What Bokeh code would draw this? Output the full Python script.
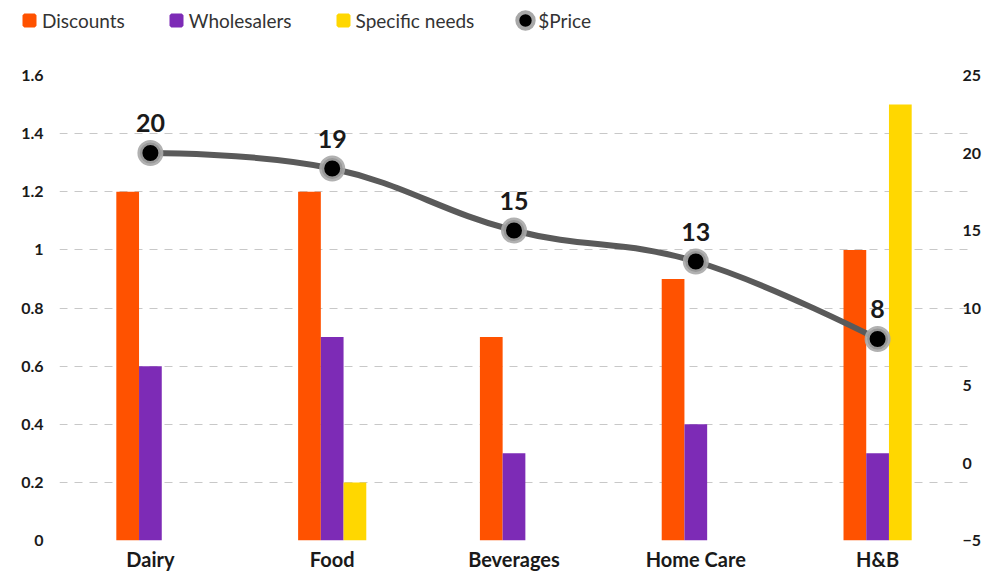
from bokeh.plotting import figure
from bokeh.layouts import column
from bokeh.models import (ColumnDataSource, Range1d, LinearAxis, FixedTicker,
                          Legend, LegendItem, NumeralTickFormatter)
from bokeh.core.properties import value
from bokeh.transform import dodge
from bokeh.embed import file_html
from bokeh.resources import INLINE

# ---------------- data ----------------
categories = ["Dairy", "Food", "Beverages", "Home Care", "H&B"]
discounts = [1.2, 1.2, 0.7, 0.9, 1.0]
wholesalers = [0.6, 0.7, 0.3, 0.4, 0.3]
specific_needs = [0, 0.2, 0, 0, 1.5]
price = [20, 19, 15, 13, 8]
left_ticks = [0, 0.2, 0.4, 0.6, 0.8, 1, 1.2, 1.4, 1.6]
right_ticks = [-5, 0, 5, 10, 15, 20, 25]

FONT = "Lato"
ORANGE = "#FF5200"
PURPLE = "#7D2BB6"
YELLOW = "#FFD700"
TXT = "#1a1a1a"

xpos = list(range(len(categories)))
src = ColumnDataSource(dict(x=xpos, discounts=discounts, wholesalers=wholesalers,
                            specific=specific_needs, price=price,
                            label=[str(v) for v in price]))

LEG_H = 40
p = figure(width=1002, height=573 - LEG_H, x_range=Range1d(-0.5, len(categories) - 0.5),
           y_range=Range1d(left_ticks[0], left_ticks[-1]),
           output_backend="svg", toolbar_location=None,
           min_border_left=59, min_border_right=34, min_border_top=75 - LEG_H,
           min_border_bottom=32)
p.outline_line_color = None
p.background_fill_color = "white"
p.border_fill_color = "white"
p.extra_y_ranges = {"price": Range1d(right_ticks[0], right_ticks[-1])}

# grid
p.xgrid.visible = False
p.ygrid.ticker = FixedTicker(ticks=left_ticks)
p.ygrid.grid_line_color = "#c8c8c8"
p.ygrid.grid_line_dash = "8 7"
p.ygrid.grid_line_width = 1

def style_axis(ax, size, standoff):
    ax.axis_line_color = None
    ax.major_tick_line_color = None
    ax.minor_tick_line_color = None
    ax.major_tick_out = 0
    ax.major_tick_in = 0
    ax.minor_tick_out = 0
    ax.minor_tick_in = 0
    ax.major_label_standoff = standoff
    ax.major_label_text_font = FONT
    ax.major_label_text_font_size = size
    ax.major_label_text_font_style = "bold"
    ax.major_label_text_color = TXT

# left axis
ya = p.yaxis[0]
ya.ticker = FixedTicker(ticks=left_ticks)
ya.formatter = NumeralTickFormatter(format="0.[0]")
style_axis(ya, "16px", 16)

# bottom axis
xa = p.xaxis[0]
xa.ticker = FixedTicker(ticks=xpos)
xa.major_label_overrides = {i: c for i, c in zip(xpos, categories)}
style_axis(xa, "20px", 6)

# right axis
ra = LinearAxis(y_range_name="price", ticker=FixedTicker(ticks=right_ticks))
style_axis(ra, "16px", -6)
ra.major_label_text_align = "right"
p.add_layout(ra, "right")

# bars
bw = 0.125
r1 = p.vbar(x=dodge("x", -bw), top="discounts", width=bw, source=src,
            fill_color=ORANGE, line_color=None)
r2 = p.vbar(x=dodge("x", 0), top="wholesalers", width=bw, source=src,
            fill_color=PURPLE, line_color=None)
r3 = p.vbar(x=dodge("x", bw), top="specific", width=bw, source=src,
            fill_color=YELLOW, line_color=None)

# smooth spline through the price points (bezier control points from the data)
def spline_segments(xs, ys, smoothing=1.5):
    n = len(xs)
    lc = [(xs[i], ys[i]) for i in range(n)]
    rc = [(xs[i], ys[i]) for i in range(n)]
    den = smoothing + 1
    for i in range(1, n - 1):
        px, py = xs[i - 1], ys[i - 1]
        nx, ny = xs[i + 1], ys[i + 1]
        x, y = xs[i], ys[i]
        lcx = (smoothing * x + px) / den
        lcy = (smoothing * y + py) / den
        rcx = (smoothing * x + nx) / den
        rcy = (smoothing * y + ny) / den
        corr = ((rcy - lcy) * (rcx - x)) / (rcx - lcx) + y - rcy
        lcy += corr
        rcy += corr
        if lcy > max(py, y):
            lcy = max(py, y); rcy = 2 * y - lcy
        elif lcy < min(py, y):
            lcy = min(py, y); rcy = 2 * y - lcy
        if rcy > max(ny, y):
            rcy = max(ny, y); lcy = 2 * y - rcy
        elif rcy < min(ny, y):
            rcy = min(ny, y); lcy = 2 * y - rcy
        lc[i] = (lcx, lcy)
        rc[i] = (rcx, rcy)
    seg = dict(x0=[], y0=[], x1=[], y1=[], cx0=[], cy0=[], cx1=[], cy1=[])
    for i in range(n - 1):
        seg["x0"].append(xs[i]); seg["y0"].append(ys[i])
        seg["x1"].append(xs[i + 1]); seg["y1"].append(ys[i + 1])
        seg["cx0"].append(rc[i][0]); seg["cy0"].append(rc[i][1])
        seg["cx1"].append(lc[i + 1][0]); seg["cy1"].append(lc[i + 1][1])
    return seg

seg_src = ColumnDataSource(spline_segments(xpos, price))
p.bezier(x0="x0", y0="y0", x1="x1", y1="y1", cx0="cx0", cy0="cy0", cx1="cx1", cy1="cy1",
         source=seg_src, y_range_name="price", line_color="#5a5a5a", line_width=6,
         line_cap="round")

r4 = p.scatter(x="x", y="price", source=src, y_range_name="price", size=21,
               fill_color="black", line_color="#a8a8a8", line_width=5, line_alpha=0.9)

p.text(x="x", y="price", text="label", source=src, y_range_name="price",
       text_align="center", text_baseline="alphabetic", y_offset=-30,
       text_font=value(FONT), text_font_size="25px", text_font_style="bold",
       text_color=TXT)

# ---------------- legend strip ----------------
lf = figure(frame_width=1002, frame_height=LEG_H, x_range=Range1d(0, 1), y_range=Range1d(0, 1),
            output_backend="svg", toolbar_location=None,
            x_axis_location=None, y_axis_location=None, min_border=0)
lf.outline_line_color = None
lf.grid.visible = False
lf.border_fill_color = "white"

# legend-only glyphs: a single point kept outside the strip's visible range
off = dict(x=[-10], y=[-10])
lg_d = lf.scatter(x="x", y="y", source=ColumnDataSource(off), marker="square",
                  fill_color=ORANGE, line_color=ORANGE, line_width=3.6)
lg_w = lf.scatter(x="x", y="y", source=ColumnDataSource(off), marker="square",
                  fill_color=PURPLE, line_color=PURPLE, line_width=3.6)
lg_s = lf.scatter(x="x", y="y", source=ColumnDataSource(off), marker="square",
                  fill_color=YELLOW, line_color=YELLOW, line_width=3.6)
lg_h = lf.scatter(x="x", y="y", source=ColumnDataSource(off), marker="circle",
                  fill_color="#a8a8a8", line_color="#a8a8a8", line_width=10)
lg_p = lf.scatter(x="x", y="y", source=ColumnDataSource(off), marker="circle",
                  fill_color="black", line_color="black", line_width=2)

legend = Legend(items=[LegendItem(label="Discounts", renderers=[lg_d]),
                       LegendItem(label="Wholesalers", renderers=[lg_w]),
                       LegendItem(label="Specific needs", renderers=[lg_s]),
                       LegendItem(label="$Price", renderers=[lg_h, lg_p])],
                location=(16, 7), orientation="horizontal",
                padding=0, margin=0, spacing=38,
                glyph_width=26, glyph_height=26, label_standoff=0,
                border_line_color=None, background_fill_alpha=0,
                label_text_font=FONT, label_text_font_size="19px",
                label_text_color="#333333")
lf.add_layout(legend)

layout = column(lf, p, spacing=0)
open("out.html", "w").write(file_html(layout, INLINE))
